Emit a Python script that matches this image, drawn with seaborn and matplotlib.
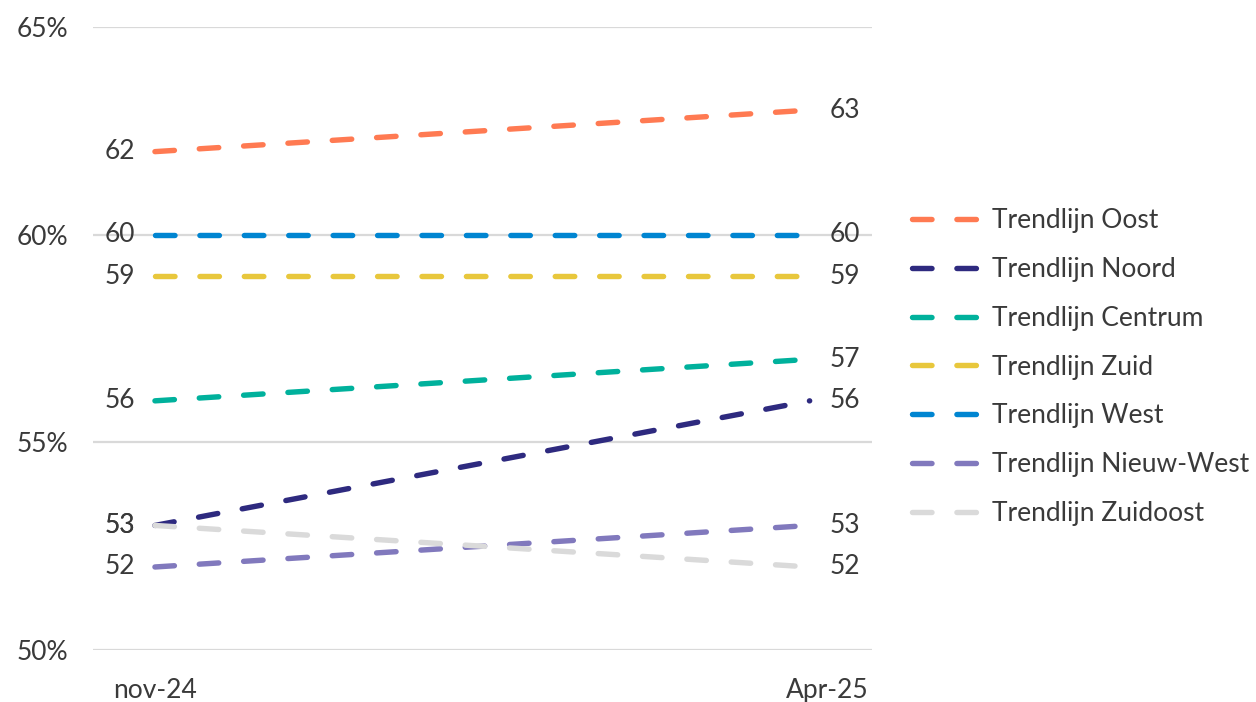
import matplotlib
matplotlib.use("Agg")
import matplotlib.pyplot as plt
import matplotlib.transforms as mtransforms
import seaborn as sns
import pandas as pd

# chart data
periods = ["nov-24", "Apr-25"]
regions = ["Trendlijn Oost", "Trendlijn Noord", "Trendlijn Centrum", "Trendlijn Zuid",
           "Trendlijn West", "Trendlijn Nieuw-West", "Trendlijn Zuidoost"]
start_vals = [62, 53, 56, 59, 60, 52, 53]
end_vals = [63, 56, 57, 59, 60, 53, 52]
colors = ["#FF7A52", "#2E2A7F", "#00B19C", "#E8C73C", "#0085D1", "#8179BD", "#DADADA"]
y_ticks = [50, 55, 60, 65]

sns.set_theme(style="white")
plt.rcParams.update({
    "font.family": ["Lato", "DejaVu Sans"],
    "font.size": 19,
    "text.color": "#3A3A3A",
    "xtick.color": "#3A3A3A",
    "ytick.color": "#3A3A3A",
})

df = pd.DataFrame({
    "region": [r for r in regions for _ in periods],
    "x": [i for _ in regions for i in range(len(periods))],
    "value": [v for s, e in zip(start_vals, end_vals) for v in (s, e)],
})

fig = plt.figure(figsize=(12.56, 7.02), dpi=100)
ax = fig.add_axes([0.074, 0.074, 0.62, 0.8875])

for region, color in zip(regions, colors):
    sub = df[df["region"] == region]
    sns.lineplot(data=sub, x="x", y="value", color=color, lw=3.9,
                 linestyle=(0, (3.6, 4.6)), dash_capstyle="round",
                 label=region, ax=ax)

# value labels at both ends
for s, e in zip(start_vals, end_vals):
    ax.annotate(f"{s}", (0, s), xytext=(-14.5, 0), textcoords="offset points",
                ha="right", va="center", fontsize=19, color="#3A3A3A")
    ax.annotate(f"{e}", (1, e), xytext=(14.5, 0), textcoords="offset points",
                ha="left", va="center", fontsize=19, color="#3A3A3A")

ax.set_xlim(-0.0947, 1.0947)
ax.set_ylim(50, 65)
ax.set_yticks(y_ticks)
ax.set_yticklabels([f"{t}%" for t in y_ticks])
ax.set_xticks([0, 1])
ax.set_xticklabels(periods)
ax.tick_params(axis="both", length=0, labelsize=19)
ax.tick_params(axis="y", pad=18)
ax.tick_params(axis="x", pad=20)
ax.set_xlabel("")
ax.set_ylabel("")
ax.yaxis.grid(True, color="#D9D9D9", lw=1.6)
ax.set_axisbelow(True)
sns.despine(ax=ax, left=True, bottom=True)

# shift the Apr-25 label right like in the original
lbl = ax.get_xticklabels()[1]
lbl.set_transform(lbl.get_transform() + mtransforms.ScaledTranslation(0.18, 0, fig.dpi_scale_trans))

ax.legend(loc="center left", bbox_to_anchor=(0.726, 0.477), bbox_transform=fig.transFigure,
          frameon=False, fontsize=19, handlelength=2.7, handletextpad=0.35,
          labelspacing=0.9, borderpad=0, borderaxespad=0)

fig.savefig("out.png", dpi=100)
